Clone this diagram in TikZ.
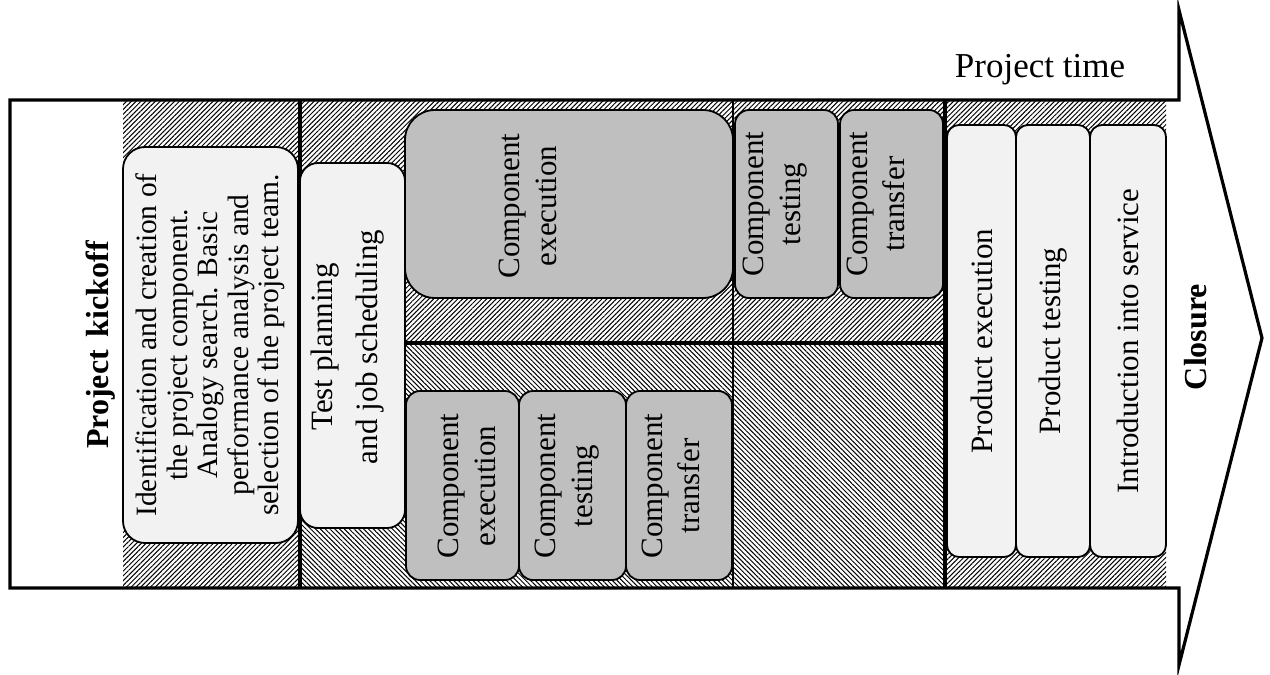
\documentclass[tikz,border=0pt]{standalone}
\usepackage{fontspec}
\setmainfont{Liberation Serif}
\usetikzlibrary{patterns.meta}
\definecolor{lightbox}{HTML}{F2F2F2}
\definecolor{darkbox}{HTML}{BFBFBF}
\tikzset{
  lbox/.style={draw=black, line width=1.8pt, fill=lightbox, rounded corners=14pt, inner sep=0pt},
  dbox/.style={draw=black, line width=1.8pt, fill=darkbox, rounded corners=14pt, inner sep=0pt},
  txt/.style={rotate=90, align=center, font=\fontsize{31}{37}\selectfont, inner sep=0pt},
  hne/.style={pattern={Lines[angle=45,distance=3.4pt,line width=1pt]}},
  hnw/.style={pattern={Lines[angle=-45,distance=3.4pt,line width=1pt]}},
  frame/.style={line width=3.2pt},
}
\begin{document}
\begin{tikzpicture}[x=1pt,y=-1pt]
\useasboundingbox (0,0) rectangle (1270,675);
% hatched regions
\fill[hne] (123,100) rectangle (300,588);
\fill[hne] (300,100) rectangle (733,343);
\fill[hnw] (300,343) rectangle (733,588);
\fill[hne] (733,100) rectangle (945,343);
\fill[hnw] (733,343) rectangle (945,588);
\fill[hne] (945,100) rectangle (1166,588);
% dividers
\draw[frame] (300,100) -- (300,588);
\draw[frame] (945,100) -- (945,588);
\draw[line width=2pt] (733,100) -- (733,588);
\draw[frame] (300,343) -- (945,343);
% arrow outline
\draw[frame, line join=miter] (10,100) -- (1179,100) -- (1179,10) -- (1262,338) -- (1179,665) -- (1179,588) -- (10,588) -- cycle;
% boxes
\node[lbox, minimum width=175pt, minimum height=396pt, rounded corners=22pt] (ident) at (210.5,345) {};
\node[lbox, minimum width=105pt, minimum height=365pt, rounded corners=18pt] (test) at (352.5,345.5) {};
\node[dbox, minimum width=328pt, minimum height=188pt, rounded corners=30pt] (ceTop) at (569,204) {};
\node[dbox, minimum width=103pt, minimum height=188pt] (ctTop) at (786.5,204) {};
\node[dbox, minimum width=103pt, minimum height=188pt] (crTop) at (891.5,204) {};
\node[dbox, minimum width=113pt, minimum height=189pt] (ceBot) at (462.5,485.5) {};
\node[dbox, minimum width=107pt, minimum height=189pt] (ctBot) at (572.5,485.5) {};
\node[dbox, minimum width=106pt, minimum height=189pt] (crBot) at (679,485.5) {};
\node[lbox, minimum width=69pt, minimum height=432pt, rounded corners=12pt] (pe) at (981.5,341) {};
\node[lbox, minimum width=74pt, minimum height=432pt, rounded corners=12pt] (pt) at (1053,341) {};
\node[lbox, minimum width=76pt, minimum height=432pt, rounded corners=12pt] (is) at (1128,341) {};
% texts
\node[font=\fontsize{35}{40}\selectfont, anchor=base] (ptime) at (1040,77) {Project time};
\node[txt, font=\fontsize{32}{37}\selectfont\bfseries] (kick) at (101,345) {Project\hspace{0.4em}kickoff};
\node[txt, font=\fontsize{29.5}{30.5}\selectfont] (identT) at (ident.center) {Identification and creation of\\the project component.\\Analogy search. Basic\\performance analysis and\\selection of the project team.};
\node[txt] (testT) at (348,347) {Test planning\\[8pt]and job scheduling};
\node[txt] (ceTopT) at (528,206) {Component\\execution};
\node[txt] (ctTopT) at (775,204) {Component\\testing};
\node[txt] (crTopT) at (876,204) {Component\\transfer};
\node[txt] (ceBotT) at (467,486) {Component\\execution};
\node[txt] (ctBotT) at (567,486) {Component\\testing};
\node[txt] (crBotT) at (671,486) {Component\\transfer};
\node[txt] (peT) at (pe.center) {Product execution};
\node[txt] (ptT) at (pt.center) {Product testing};
\node[txt] (isT) at (is.center) {Introduction into service};
\node[txt, font=\fontsize{32}{37}\selectfont\bfseries] (close) at (1196,337) {Closure};
\end{tikzpicture}
\end{document}
